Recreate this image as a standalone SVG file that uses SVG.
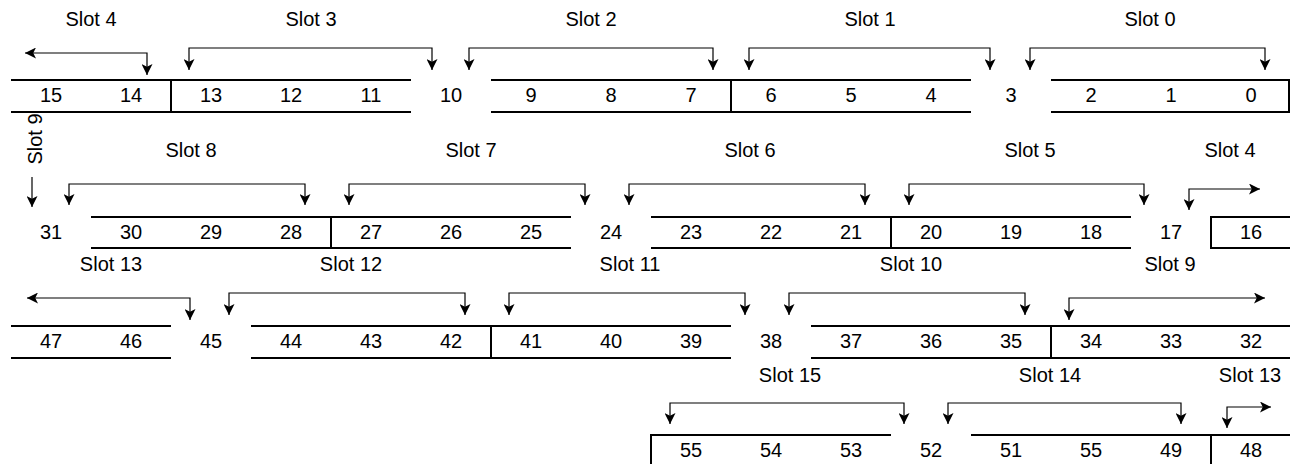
<svg xmlns="http://www.w3.org/2000/svg" width="1291" height="464" viewBox="0 0 1291 464">
<style>
text{font-family:"Liberation Sans",Arial,sans-serif;font-size:20px;fill:#000;text-anchor:middle}
.box{fill:none;stroke:#000;stroke-width:2}
.arr{fill:none;stroke:#000;stroke-width:1.2;marker-end:url(#ah)}
.arr2{fill:none;stroke:#000;stroke-width:1.2;marker-start:url(#ah);marker-end:url(#ah)}
</style>
<defs>
<marker id="ah" markerUnits="userSpaceOnUse" markerWidth="11" markerHeight="11" viewBox="0 0 10 10" refX="10" refY="5" orient="auto-start-reverse">
<path d="M0,0 L10,5 L0,10 L2.5,5 z" fill="#000"/>
</marker>
</defs>
<rect width="1291" height="464" fill="#fff"/>

<g id="row1">
<path class="box" d="M11,80 H411 M11,112 H411 M171,80 V112"/>
<path class="box" d="M491,80 H971 M491,112 H971 M731,80 V112"/>
<path class="box" d="M1051,80 H1289 V112 H1051"/>
<text x="51" y="102">15</text><text x="131" y="102">14</text><text x="211" y="102">13</text><text x="291" y="102">12</text><text x="371" y="102">11</text><text x="451" y="102">10</text><text x="531" y="102">9</text><text x="611" y="102">8</text><text x="691" y="102">7</text><text x="771" y="102">6</text><text x="851" y="102">5</text><text x="931" y="102">4</text><text x="1011" y="102">3</text><text x="1091" y="102">2</text><text x="1171" y="102">1</text><text x="1251" y="102">0</text>
</g>

<g id="row2">
<path class="box" d="M91,217 H571 M91,248 H571 M331,217 V248"/>
<path class="box" d="M651,217 H1131 M651,248 H1131 M891,217 V248"/>
<path class="box" d="M1290,217 H1211 V248 H1290"/>
<text x="51" y="239">31</text><text x="131" y="239">30</text><text x="211" y="239">29</text><text x="291" y="239">28</text><text x="371" y="239">27</text><text x="451" y="239">26</text><text x="531" y="239">25</text><text x="611" y="239">24</text><text x="691" y="239">23</text><text x="771" y="239">22</text><text x="851" y="239">21</text><text x="931" y="239">20</text><text x="1011" y="239">19</text><text x="1091" y="239">18</text><text x="1171" y="239">17</text><text x="1251" y="239">16</text>
</g>

<g id="row3">
<path class="box" d="M11,326 H171 M11,358 H171"/>
<path class="box" d="M251,326 H731 M251,358 H731 M491,326 V358"/>
<path class="box" d="M811,326 H1290 M811,358 H1290 M1051,326 V358"/>
<text x="51" y="348">47</text><text x="131" y="348">46</text><text x="211" y="348">45</text><text x="291" y="348">44</text><text x="371" y="348">43</text><text x="451" y="348">42</text><text x="531" y="348">41</text><text x="611" y="348">40</text><text x="691" y="348">39</text><text x="771" y="348">38</text><text x="851" y="348">37</text><text x="931" y="348">36</text><text x="1011" y="348">35</text><text x="1091" y="348">34</text><text x="1171" y="348">33</text><text x="1251" y="348">32</text>
</g>

<g id="row4">
<path class="box" d="M651,466 V435 H891"/>
<path class="box" d="M971,435 H1290 M1211,435 V466"/>
<text x="691" y="457">55</text><text x="771" y="457">54</text><text x="851" y="457">53</text><text x="931" y="457">52</text><text x="1011" y="457">51</text><text x="1091" y="457">55</text><text x="1171" y="457">49</text><text x="1251" y="457">48</text>
</g>

<g id="labels">
<text x="91" y="26">Slot 4</text><text x="311" y="26">Slot 3</text><text x="591" y="26">Slot 2</text><text x="870" y="26">Slot 1</text><text x="1150" y="26">Slot 0</text>
<text x="42" y="139" transform="rotate(-90 42 139)">Slot 9</text>
<text x="191" y="157">Slot 8</text><text x="471" y="157">Slot 7</text><text x="750" y="157">Slot 6</text><text x="1030" y="157">Slot 5</text><text x="1230" y="157">Slot 4</text>
<text x="111" y="271">Slot 13</text><text x="351" y="271">Slot 12</text><text x="630" y="271">Slot 11</text><text x="911" y="271">Slot 10</text><text x="1170" y="271">Slot 9</text>
<text x="790" y="382">Slot 15</text><text x="1050" y="382">Slot 14</text><text x="1250" y="382">Slot 13</text>
</g>

<g id="connectors">
<path class="arr2" d="M25,53 H147 V75"/>
<path class="arr2" d="M189,70 V48 H432 V70"/>
<path class="arr2" d="M469,70 V48 H713 V70"/>
<path class="arr2" d="M749,70 V48 H990 V70"/>
<path class="arr2" d="M1030,70 V48 H1265 V70"/>
<path class="arr" d="M32,177 V207"/>
<path class="arr2" d="M69,205 V184 H305 V205"/>
<path class="arr2" d="M349,205 V184 H585 V205"/>
<path class="arr2" d="M629,205 V184 H865 V205"/>
<path class="arr2" d="M909,205 V184 H1144 V205"/>
<path class="arr2" d="M1189,210 V189 H1260"/>
<path class="arr2" d="M27,298 H190 V320"/>
<path class="arr2" d="M229,315 V293 H465 V315"/>
<path class="arr2" d="M509,315 V293 H745 V315"/>
<path class="arr2" d="M789,315 V293 H1025 V315"/>
<path class="arr2" d="M1069,320 V298 H1265"/>
<path class="arr2" d="M670,424 V403 H904 V424"/>
<path class="arr2" d="M948,424 V403 H1181 V424"/>
<path class="arr2" d="M1227,428 V407 H1271"/>
</g>
</svg>
